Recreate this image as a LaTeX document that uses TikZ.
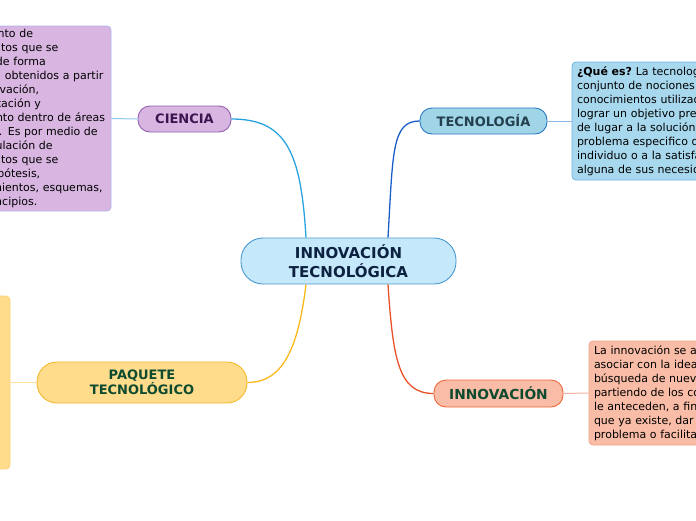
\documentclass[tikz,border=0pt]{standalone}
\usepackage{fontspec}
\setmainfont{DejaVu Sans}
\definecolor{cfill}{HTML}{C5E9FA}
\definecolor{cborder}{HTML}{4A98D0}
\definecolor{ctext}{HTML}{0D2140}
\definecolor{cifill}{HTML}{D9B6E1}
\definecolor{ciborder}{HTML}{9060B0}
\definecolor{citext}{HTML}{3C1450}
\definecolor{cinoteborder}{HTML}{B4B0EA}
\definecolor{cilink}{HTML}{29A3E0}
\definecolor{cishort}{HTML}{8CC8EE}
\definecolor{tefill}{HTML}{9FD5E6}
\definecolor{teborder}{HTML}{2A78C8}
\definecolor{tetext}{HTML}{24404E}
\definecolor{telink}{HTML}{1A5FC8}
\definecolor{teshort}{HTML}{8CB8EE}
\definecolor{tenotefill}{HTML}{A8D8EE}
\definecolor{tenoteborder}{HTML}{70B4E4}
\definecolor{pafill}{HTML}{FEDC8C}
\definecolor{paborder}{HTML}{F5B82A}
\definecolor{gtext}{HTML}{0E4A2E}
\definecolor{palink}{HTML}{FBB81A}
\definecolor{pashort}{HTML}{FEE098}
\definecolor{panoteborder}{HTML}{FCD27A}
\definecolor{infill}{HTML}{F9BCA6}
\definecolor{inborder}{HTML}{EE6A3C}
\definecolor{inlink}{HTML}{E8522A}
\definecolor{inshort}{HTML}{F4B0A0}
\definecolor{innoteborder}{HTML}{F2A488}
\begin{document}
\begin{tikzpicture}[x=1pt,y=-1pt,
  topic/.style={draw, line width=0.9pt, align=center, inner sep=0pt,
    font=\fontsize{13}{15.5}\selectfont\bfseries},
  note/.style={draw, line width=0.8pt, rounded corners=4pt, align=left,
    inner xsep=5pt, inner ysep=0pt, font=\fontsize{11}{14}\selectfont, text=black},
  link/.style={line width=1.3pt},
  short/.style={line width=1pt}]
\useasboundingbox (0,0) rectangle (696,520);
\clip (0,0) rectangle (696,520);

% central
\node[topic, fill=cfill, draw=cborder, text=ctext, minimum width=215pt,
  minimum height=46pt, rounded corners=22pt,
  font=\fontsize{15}{18.5}\selectfont\bfseries] (central) at (348.5,261)
  {INNOVACIÓN\\TECNOLÓGICA};

% CIENCIA
\node[topic, fill=cifill, draw=ciborder, text=citext, minimum width=93pt,
  minimum height=26pt, rounded corners=12pt] (ciencia) at (184.5,119) {CIENCIA};
\node[note, fill=cifill, draw=cinoteborder, text width=168pt,
  minimum height=185pt] (ciencianote) at (22,118.5)
  {Es el conjunto de\\conocimientos que se\\organizan de forma\\sistemática obtenidos a partir\\de la observación,\\experimentación y\\razonamiento dentro de áreas\\específicas. Es por medio de\\esta acumulación de\\conocimientos que se\\generan hipótesis,\\cuestionamientos, esquemas,\\leyes y principios.};

% TECNOLOGIA
\node[topic, fill=tefill, draw=teborder, text=tetext, minimum width=127pt,
  minimum height=26pt, rounded corners=12pt] (tecno) at (483.5,121) {TECNOLOGÍA};
\node[note, fill=tenotefill, draw=tenoteborder, text width=200pt,
  minimum height=118pt] (tecnonote) at (677,121)
  {\textbf{¿Qué es?}~La tecnología es el\\conjunto de nociones y\\conocimientos utilizados para\\lograr un objetivo preciso, que\\de lugar a la solución de un\\problema especifico del\\individuo o a la satisfacción de\\alguna de sus necesidades.};

% PAQUETE
\node[topic, fill=pafill, draw=paborder, text=gtext, minimum width=210pt,
  minimum height=41pt, rounded corners=20pt] (paquete) at (142,382.5)
  {PAQUETE\\TECNOLÓGICO};
\node[draw=panoteborder, fill=pafill, line width=0.8pt, rounded corners=4pt,
  minimum width=60pt, minimum height=173pt, inner sep=0pt] (paqnote) at (-20,382.5) {};

% INNOVACION
\node[topic, fill=infill, draw=inborder, text=gtext, minimum width=129pt,
  minimum height=27pt, rounded corners=12pt,
  font=\fontsize{13.8}{15.5}\selectfont\bfseries] (innov) at (498.5,393.5) {INNOVACIÓN};
\node[note, fill=infill, draw=innoteborder, text width=200pt,
  minimum height=104pt] (innovnote) at (694,393)
  {La innovación se acostumbra a\\asociar con la idea de la\\búsqueda de nuevas formas\\partiendo de los conocimientos que\\le anteceden, a fin de mejorar algo\\que ya existe, dar solución a un\\problema o facilitar una actividad.};

% connectors
\draw[link, cilink] ([xshift=-42.5pt]central.north) .. controls +(-5,-85) and +(55,0) .. (ciencia.east);
\draw[link, telink] ([xshift=39.5pt]central.north) .. controls +(5,-85) and +(-28,0) .. (tecno.west);
\draw[link, palink] ([xshift=-42.5pt]central.south) .. controls +(-8,65) and +(35,0) .. (paquete.east);
\draw[link, inlink] ([xshift=39.5pt]central.south) .. controls +(5,75) and +(-35,0) .. (innov.west);

\draw[short, cishort] (ciencia.west) -- (ciencianote.east);
\draw[short, teshort] (tecno.east) -- (tecnonote.west);
\draw[short, pashort] (paquete.west) -- (paqnote.east);
\draw[short, inshort] (innov.east) -- (innovnote.west);
\end{tikzpicture}
\end{document}
